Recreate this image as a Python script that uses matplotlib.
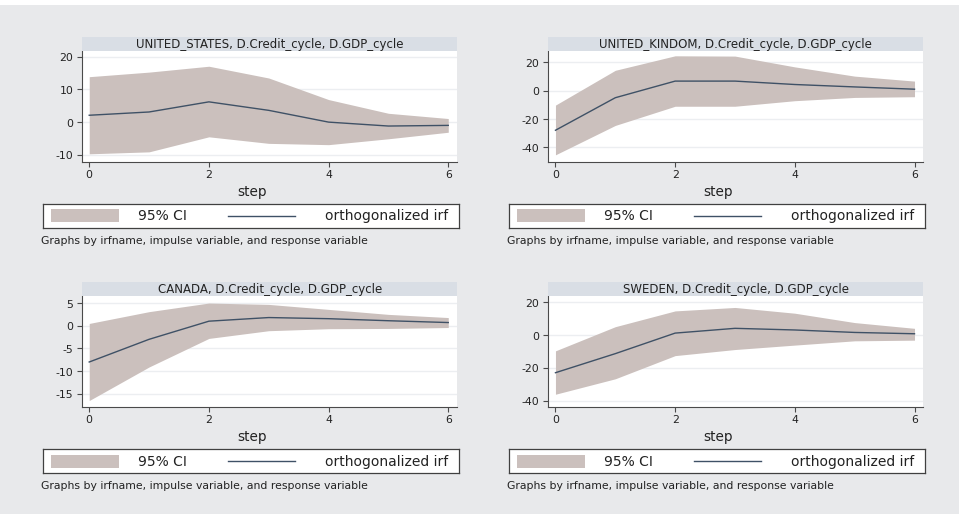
import matplotlib
matplotlib.use("Agg")
import matplotlib.pyplot as plt
from matplotlib.patches import Rectangle

plt.rcParams['font.family'] = ['DejaVu Sans']
plt.rcParams['axes.unicode_minus'] = False

# impulse response horizon
steps = [0, 1, 2, 3, 4, 5, 6]

# orthogonalized irf + 95% CI, impulse D.Credit_cycle -> response D.GDP_cycle
us_irf = [2.1, 3.1, 6.2, 3.6, 0.0, -1.2, -1.0]
us_hi = [13.9, 15.3, 17.1, 13.5, 6.9, 2.7, 1.1]
us_lo = [-9.7, -9.1, -4.5, -6.5, -6.9, -5.1, -3.1]

uk_irf = [-27.9, -5.0, 6.7, 6.7, 4.3, 2.6, 1.0]
uk_hi = [-10.2, 14.3, 24.5, 24.3, 16.7, 10.2, 6.7]
uk_lo = [-45.2, -24.5, -11.0, -11.0, -7.1, -4.8, -4.3]

ca_irf = [-8.0, -3.0, 1.0, 1.8, 1.55, 1.1, 0.7]
ca_hi = [0.5, 3.1, 5.0, 4.7, 3.6, 2.5, 1.8]
ca_lo = [-16.5, -9.1, -2.8, -1.1, -0.66, -0.6, -0.4]

se_irf = [-22.9, -11.3, 1.2, 4.1, 3.1, 1.6, 0.8]
se_hi = [-9.6, 5.1, 14.7, 16.8, 13.3, 7.6, 4.1]
se_lo = [-36.0, -26.6, -12.5, -8.8, -6.1, -3.5, -3.1]

titles = ["UNITED_STATES, D.Credit_cycle, D.GDP_cycle",
          "UNITED_KINDOM, D.Credit_cycle, D.GDP_cycle",
          "CANADA, D.Credit_cycle, D.GDP_cycle",
          "SWEDEN, D.Credit_cycle, D.GDP_cycle"]
yticks = [[-10, 0, 10, 20], [-40, -20, 0, 20], [-15, -10, -5, 0, 5], [-40, -20, 0, 20]]
ylims = [(-12.1, 21.9), (-50.0, 28.2), (-17.9, 6.6), (-43.7, 23.9)]
series = [(us_irf, us_lo, us_hi), (uk_irf, uk_lo, uk_hi),
          (ca_irf, ca_lo, ca_hi), (se_irf, se_lo, se_hi)]
offsets = [(0, 0), (466, 0), (0, 245), (466, 245)]

W, H = 959, 514
BG = "#e8e9eb"
STRIP = "#d9dee5"
BAND = "#cbc0bd"
LINE = "#3f5166"
AXC = "#4a4a4a"

fig = plt.figure(figsize=((W + 0.5) / 100, (H + 0.5) / 100), dpi=100, facecolor=BG)
fig.add_artist(Rectangle((0, 1 - 5 / H), 1, 5 / H, transform=fig.transFigure,
                         facecolor="white", edgecolor="none"))


def box(x0, y0, x1, y1):
    return [x0 / W, 1 - y1 / H, (x1 - x0) / W, (y1 - y0) / H]


for k in range(4):
    dx, dy = offsets[k]
    irf, lo, hi = series[k]

    # title strip
    sx0, sy0, sx1, sy1 = 82 + dx, 37 + dy, 457 + dx, 51 + dy
    fig.add_artist(Rectangle((sx0 / W, 1 - sy1 / H), (sx1 - sx0) / W, (sy1 - sy0) / H,
                             transform=fig.transFigure, facecolor=STRIP, edgecolor="none"))
    fig.text((sx0 + sx1) / 2 / W, 1 - (sy0 + sy1) / 2 / H, titles[k],
             ha="center", va="center", fontsize=8.5, color="#222222")

    ax = fig.add_axes(box(82 + dx, 51 + dy, 457 + dx, 162 + dy))
    ax.set_facecolor("white")
    ax.fill_between(steps, lo, hi, color=BAND, linewidth=0, zorder=2)
    ax.plot(steps, irf, color=LINE, linewidth=1.0, zorder=3)
    ax.set_xlim(-0.12, 6.15)
    ax.set_ylim(*ylims[k])
    ax.set_xticks([0, 2, 4, 6])
    ax.set_yticks(yticks[k])
    ax.yaxis.grid(True, color="#eceef1", linewidth=1.0, zorder=0)
    ax.set_axisbelow(True)
    for s in ["top", "right"]:
        ax.spines[s].set_visible(False)
    for s in ["left", "bottom"]:
        ax.spines[s].set_color(AXC)
        ax.spines[s].set_linewidth(0.8)
    ax.tick_params(axis="both", colors=AXC, labelcolor="#222222", labelsize=7.8,
                   length=3.8, width=0.8)
    ax.tick_params(axis="y", pad=2.5)
    ax.tick_params(axis="x", pad=2.0)

    fig.text(252 / W + dx / W, 1 - (192 + dy) / H, "step", ha="center", va="center",
             fontsize=9.8, color="#222222")

    # legend
    lx0, ly0, lx1, ly1 = 43 + dx, 204 + dy, 459 + dx, 228.5 + dy
    lg = fig.add_axes(box(lx0, ly0, lx1, ly1))
    lg.set_xlim(0, lx1 - lx0)
    lg.set_ylim(0, ly1 - ly0)
    lg.set_xticks([])
    lg.set_yticks([])
    lg.set_facecolor("white")
    for s in lg.spines.values():
        s.set_color("#404040")
        s.set_linewidth(0.9)
    hgt = ly1 - ly0
    lg.add_patch(Rectangle((8, hgt / 2 - 6.5), 68, 13, facecolor=BAND, edgecolor="none"))
    lg.text(119, hgt / 2, "95% CI", ha="center", va="center", fontsize=10, color="#222222")
    lg.plot([185, 252], [hgt / 2, hgt / 2], color=LINE, linewidth=1.0)
    lg.text(405, hgt / 2, "orthogonalized irf", ha="right", va="center", fontsize=10,
            color="#222222")

    fig.text((41 + dx) / W, 1 - (240.5 + dy) / H,
             "Graphs by irfname, impulse variable, and response variable",
             ha="left", va="center", fontsize=7.8, color="#222222")

fig.savefig("out.png", dpi=100, facecolor=BG)
